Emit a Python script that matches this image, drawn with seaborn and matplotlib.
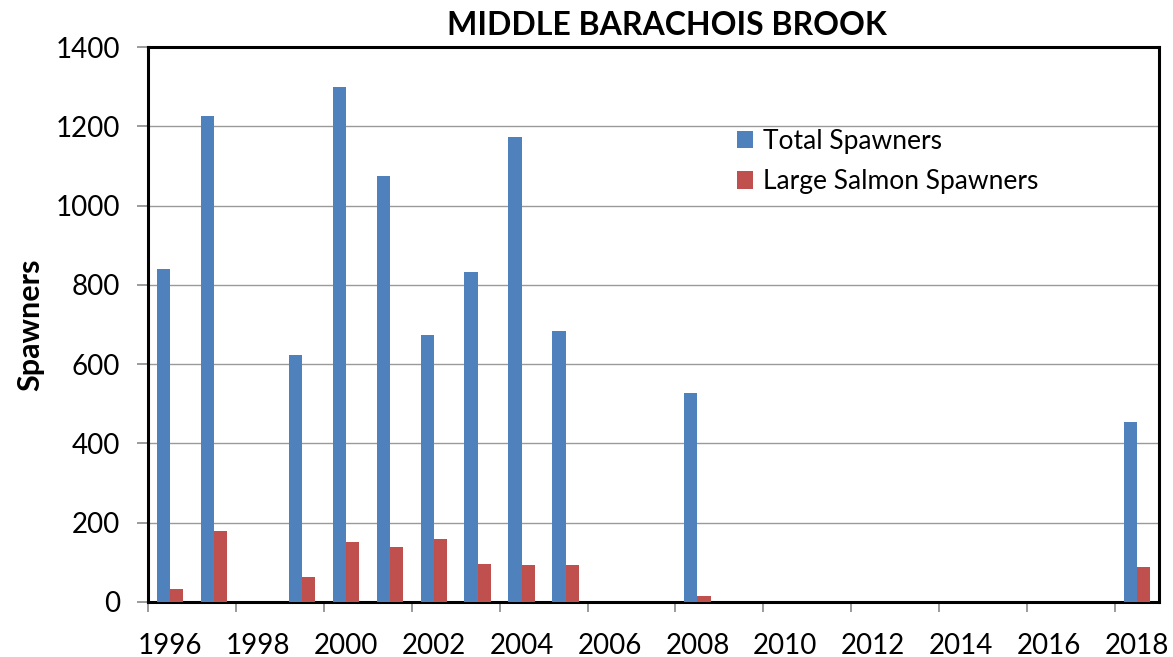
import matplotlib
matplotlib.use("Agg")
import matplotlib.pyplot as plt
import seaborn as sns
import pandas as pd
import numpy as np

# ---- data ----
all_years = list(range(1996, 2019))
years = [1996, 1997, 1999, 2000, 2001, 2002, 2003, 2004, 2005, 2008, 2018]
total_spawners = [839, 1226, 622, 1298, 1074, 673, 832, 1172, 684, 528, 455]
large_spawners = [32, 180, 64, 151, 140, 158, 97, 93, 93, 15, 88]
series_names = ["Total Spawners", "Large Salmon Spawners"]
tick_years = list(range(1996, 2019, 2))
y_ticks = [0, 200, 400, 600, 800, 1000, 1200, 1400]

title = "MIDDLE BARACHOIS BROOK"
ylabel = "Spawners"

colors = ["#4F81BD", "#C0504D"]

# ---- long-form table ----
tot_map = dict(zip(years, total_spawners))
lar_map = dict(zip(years, large_spawners))
rows = []
for y in all_years:
    rows.append({"Year": str(y), "Series": series_names[0], "Value": tot_map.get(y, 0)})
    rows.append({"Year": str(y), "Series": series_names[1], "Value": lar_map.get(y, 0)})
df = pd.DataFrame(rows)

sns.set_style("white")
plt.rcParams["font.family"] = ["Lato", "DejaVu Sans"]
plt.rcParams["text.color"] = "black"
plt.rcParams["axes.labelcolor"] = "black"
plt.rcParams["xtick.color"] = "black"
plt.rcParams["ytick.color"] = "black"

fig = plt.figure(figsize=(11.73, 6.57), dpi=100)
ax = fig.add_axes([148 / 1173, 1 - 602 / 657, (1159 - 148) / 1173, (602 - 47) / 657])

sns.barplot(data=df, x="Year", y="Value", hue="Series", order=[str(y) for y in all_years],
            hue_order=series_names, palette=colors, saturation=1, width=0.6, linewidth=0,
            errorbar=None, ax=ax, zorder=3)

ax.set_xlim(-0.5, len(all_years) - 0.5)
ax.set_ylim(0, 1400)
ax.set_yticks(y_ticks)
ax.set_yticklabels([str(v) for v in y_ticks])
ax.yaxis.grid(True, color="#9a9a9a", linewidth=1.0, zorder=0)
ax.xaxis.grid(False)
ax.set_axisbelow(True)

# x tick labels centered on categories, tick marks at category boundaries
centers = [all_years.index(y) for y in tick_years]
ax.set_xticks(centers)
ax.set_xticklabels([str(y) for y in tick_years])
ax.set_xticks([c - 0.5 for c in centers], minor=True)
ax.tick_params(axis="x", which="major", length=0, pad=22, labelsize=20, labelcolor="black")
ax.tick_params(axis="x", which="minor", length=7.5, width=1.2, color="#8a8a8a", direction="out", bottom=True)
ax.tick_params(axis="y", which="major", length=8, width=1.2, color="#8a8a8a", direction="out",
               left=True, pad=12, labelsize=20, labelcolor="black")

for s in ax.spines.values():
    s.set_visible(True)
    s.set_color("black")
    s.set_linewidth(2.2)

ax.set_xlabel("")
ax.set_ylabel(ylabel, fontsize=22, fontweight="bold", color="black")
ax.yaxis.set_label_coords(-0.103, 0.5)

handles, labels = ax.get_legend_handles_labels()
leg = ax.legend(handles, labels, loc="upper left", bbox_to_anchor=(737 / 1173, 1 - 129 / 657),
                bbox_transform=fig.transFigure, frameon=False, fontsize=19,
                handlelength=0.62, handleheight=0.62, handletextpad=0.35,
                labelspacing=0.58, borderpad=0, borderaxespad=0)
for t in leg.get_texts():
    t.set_color("black")

fig.text(667 / 1173, 1 - 35 / 657, title, ha="center", va="baseline",
         fontsize=23, fontweight="bold", color="black")

fig.savefig("out.png", dpi=100, facecolor="white")
